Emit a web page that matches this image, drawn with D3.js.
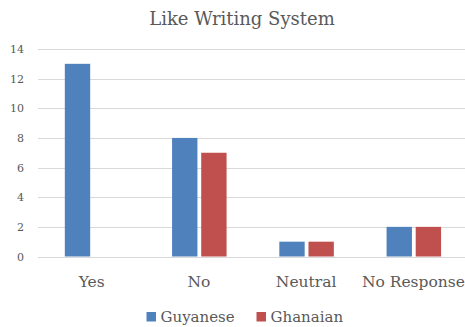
<!DOCTYPE html>
<html>
<head>
<meta charset="utf-8">
<script src="https://d3js.org/d3.v7.min.js"></script>
<style>
  body { margin: 0; background: #fff; }
  svg text { font-family: "DejaVu Serif", "Liberation Serif", serif; fill: #595959; }
</style>
</head>
<body>
<div class="svg-container"></div>
<script>
const categories = ["Yes", "No", "Neutral", "No Response"];
const seriesNames = ["Guyanese", "Ghanaian"];
const guyanese = [13, 8, 1, 2];
const ghanaian = [0, 7, 1, 2];
const yTicks = [0, 2, 4, 6, 8, 10, 12, 14];
const colours = ["#4F81BD", "#C0504D"];

const width = 465, height = 327;
const margin = { top: 49, right: -2, bottom: 70, left: 38 };

const svg = d3.select(".svg-container")
  .append("svg")
  .attr("width", width)
  .attr("height", height);

// scales
const x0 = d3.scaleBand()
  .domain(categories)
  .range([margin.left, width - margin.right]);

const x1 = d3.scaleBand()
  .domain(seriesNames)
  .range([0, 54.5])
  .paddingInner(0.13);

const y = d3.scaleLinear()
  .domain([0, 14])
  .range([height - margin.bottom - 0.5, margin.top]);

// gridlines
svg.append("g")
  .selectAll("line")
  .data(yTicks)
  .enter()
  .append("line")
  .attr("x1", margin.left)
  .attr("x2", width)
  .attr("y1", d => Math.round(y(d)) + 0.5)
  .attr("y2", d => Math.round(y(d)) + 0.5)
  .style("stroke", "#D9D9D9")
  .style("stroke-width", 1);

// y-axis labels
svg.append("g")
  .attr("id", "y-axis")
  .attr("transform", "translate(" + margin.left + ",0)")
  .call(d3.axisLeft(y).tickValues(yTicks).tickSize(0).tickPadding(14))
  .call(g => g.select(".domain").remove())
  .selectAll("text")
  .style("font-size", "11px");

// bars
const data = categories.map((c, i) => ({ cat: c, values: [guyanese[i], ghanaian[i]] }));

const groups = svg.selectAll(".group")
  .data(data)
  .enter()
  .append("g")
  .attr("class", "group")
  .attr("transform", d => "translate(" + (x0(d.cat) + x0.bandwidth() / 2 - 26.8) + ",0)");

groups.selectAll("rect")
  .data(d => d.values.map((v, j) => ({ key: seriesNames[j], value: v, idx: j })))
  .enter()
  .append("rect")
  .attr("x", d => x1(d.key))
  .attr("y", d => y(d.value))
  .attr("width", x1.bandwidth())
  .attr("height", d => y(0) - y(d.value))
  .style("fill", d => colours[d.idx]);

// x-axis labels
svg.append("g")
  .attr("id", "x-axis")
  .attr("transform", "translate(0," + y(0) + ")")
  .call(d3.axisBottom(x0).tickSize(0).tickPadding(19))
  .call(g => g.select(".domain").remove())
  .selectAll("text")
  .style("font-size", "15.5px");

// title
svg.append("text")
  .attr("x", 242)
  .attr("y", 25)
  .attr("text-anchor", "middle")
  .style("font-size", "18px")
  .text("Like Writing System");

// legend
const legendX = [146.5, 256.5];
const legend = svg.append("g").attr("id", "legend");

legend.selectAll("rect")
  .data(seriesNames)
  .enter()
  .append("rect")
  .attr("x", (d, i) => legendX[i])
  .attr("y", 312)
  .attr("width", 9.5)
  .attr("height", 9.5)
  .style("fill", (d, i) => colours[i]);

legend.selectAll("text")
  .data(seriesNames)
  .enter()
  .append("text")
  .attr("x", (d, i) => legendX[i] + 14)
  .attr("y", 322)
  .style("font-size", "15px")
  .text(d => d);
</script>
</body>
</html>
